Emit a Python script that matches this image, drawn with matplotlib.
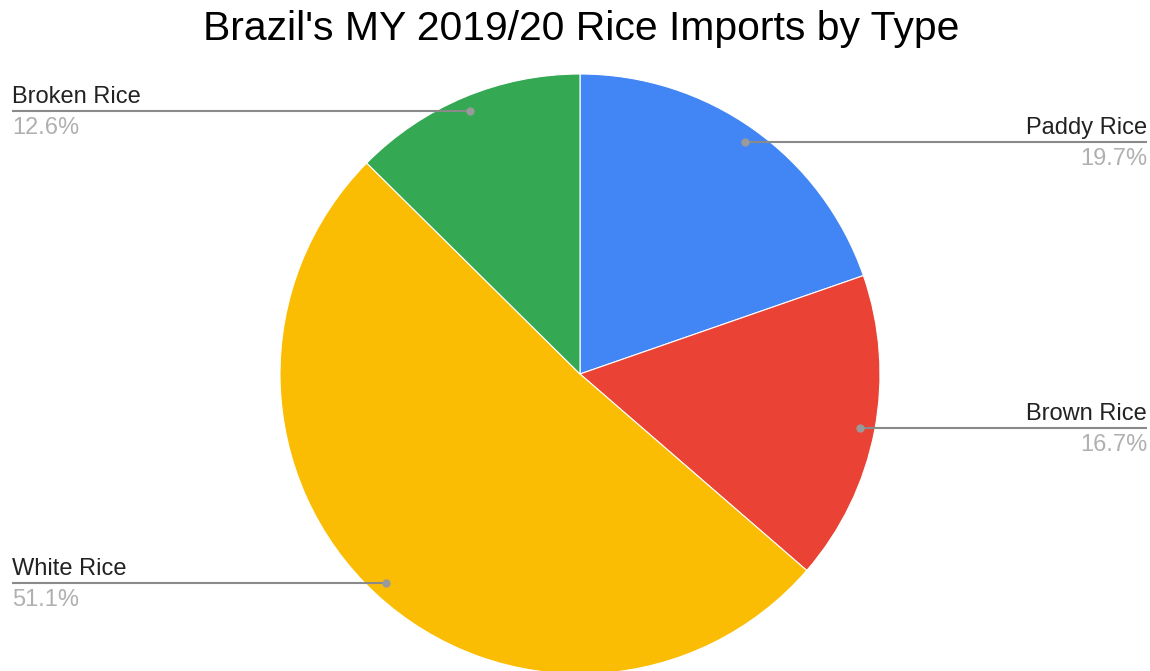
import numpy as np
import matplotlib.pyplot as plt

# chart data
labels = ["Paddy Rice", "Brown Rice", "White Rice", "Broken Rice"]
shares = [19.7, 16.7, 51.1, 12.6]
colors = ["#4285F4", "#EA4335", "#FBBC04", "#34A853"]

W, H = 1150, 671
plt.rcParams['font.family'] = ['Liberation Sans', 'DejaVu Sans']

fig = plt.figure(figsize=(W / 100, H / 100), dpi=100)
ax = fig.add_axes([0, 0, 1, 1])

cx, cy, r = 580, H - 374, 300
wedges, _ = ax.pie(shares, colors=colors, startangle=90, counterclock=False,
                   center=(cx, cy), radius=r, frame=True,
                   wedgeprops=dict(edgecolor='white', linewidth=0.8))
ax.set_xlim(0, W)
ax.set_ylim(0, H)
ax.set_aspect('equal')
ax.axis('off')

# leader lines + labels
for w, name, val in zip(wedges, labels, shares):
    mid = np.deg2rad((w.theta1 + w.theta2) / 2)
    px = cx + 0.95 * r * np.cos(mid)
    py = cy + 0.95 * r * np.sin(mid)
    if np.cos(mid) >= 0:
        x_end, ha = 1147, 'right'
    else:
        x_end, ha = 12, 'left'
    ax.plot([px, x_end], [py, py], color='#8a8a8a', lw=1.5, solid_capstyle='butt')
    ax.plot(px, py, 'o', color='#9a9a9a', ms=5)
    ax.text(x_end, py + 8, name, ha=ha, va='baseline', fontsize=17, color='#222222')
    ax.text(x_end, py - 6, f"{val}%", ha=ha, va='top', fontsize=17, color='#b0b0b0')

fig.text(581 / W, 1 - 29 / H, "Brazil's MY 2019/20 Rice Imports by Type",
         ha='center', va='center', fontsize=29.4, color='black')

fig.savefig("out.png", dpi=100)
